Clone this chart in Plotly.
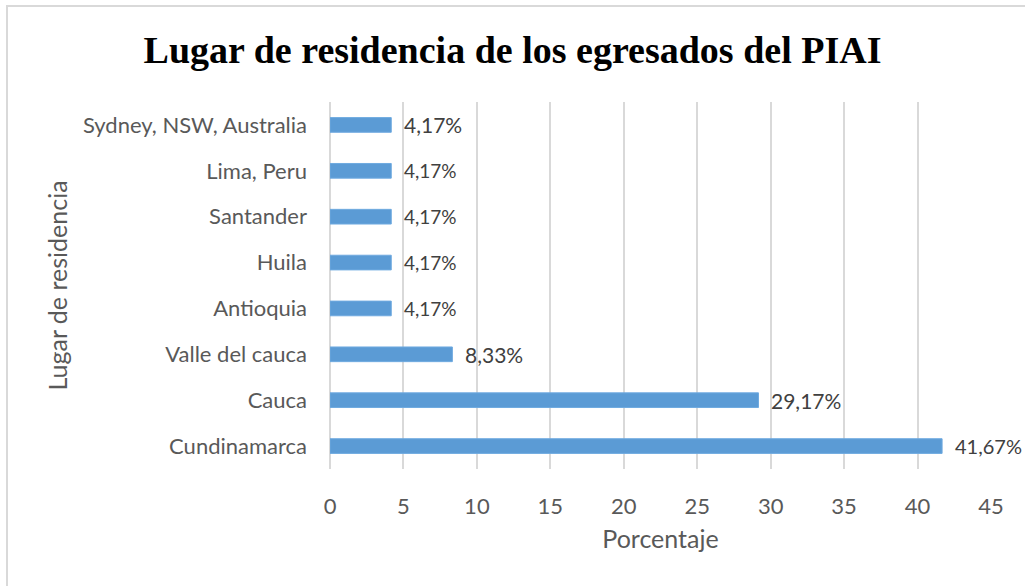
import plotly.graph_objects as go

categories = ["Cundinamarca", "Cauca", "Valle del cauca", "Antioquia", "Huila",
              "Santander", "Lima, Peru", "Sydney, NSW, Australia"]
values = [41.67, 29.17, 8.33, 4.17, 4.17, 4.17, 4.17, 4.17]
label_sizes = [20, 21, 21, 19, 19, 19, 19, 21]
x_ticks = [0, 5, 10, 15, 20, 25, 30, 35, 40, 45]

W, H = 1025, 586
ML, MR, MT, MB = 330, 34, 102, 117
PW, PH = W - ML - MR, H - MT - MB

BAR = "#5B9BD5"
TXT = "#595959"
GRID = "#D9D9D9"
FONT = "Lato, Carlito, Calibri, sans-serif"

fig = go.Figure()
fig.add_trace(go.Bar(
    x=values, y=categories, orientation="h",
    marker=dict(color=BAR, line=dict(color="#6FAAE0", width=1)),
    width=0.32, hoverinfo="skip",
))

for v, c, s in zip(values, categories, label_sizes):
    fig.add_annotation(
        x=v, y=c, xref="x", yref="y",
        text=f"{v:.2f}".replace(".", ",") + "%",
        showarrow=False, xanchor="left", yanchor="middle",
        xshift=11, font=dict(family=FONT, size=s, color="#404040"),
    )

def px_x(p):
    return (p - ML) / PW

def px_y(p):
    return (H - MB - p) / PH

# chart border (left and top edges visible)
fig.add_shape(type="line", xref="paper", yref="paper",
              x0=px_x(7), x1=px_x(7), y0=px_y(5), y1=px_y(H + 5),
              line=dict(color=GRID, width=2))
fig.add_shape(type="line", xref="paper", yref="paper",
              x0=px_x(6), x1=px_x(W + 5), y0=px_y(6), y1=px_y(6),
              line=dict(color=GRID, width=2))

fig.update_layout(
    width=W, height=H,
    margin=dict(l=ML, r=MR, t=MT, b=MB, autoexpand=False),
    paper_bgcolor="white", plot_bgcolor="white",
    showlegend=False,
    title=dict(
        text="<b>Lugar de residencia de los egresados del PIAI</b>",
        font=dict(family="Liberation Serif, Times New Roman, serif", size=38, color="black"),
        x=0.5, xanchor="center", xref="container",
        y=1 - 50 / H, yanchor="middle", yref="container",
    ),
    xaxis=dict(
        range=[0, 45], tickvals=x_ticks, ticktext=[str(t) for t in x_ticks],
        showgrid=True, gridcolor=GRID, gridwidth=2,
        zeroline=True, zerolinecolor=GRID, zerolinewidth=2,
        showline=False, ticks="", ticklabelstandoff=22,
        tickfont=dict(family=FONT, size=22, color=TXT),
        title=dict(text="Porcentaje", font=dict(family=FONT, size=25, color=TXT), standoff=12),
        fixedrange=True,
    ),
    yaxis=dict(
        categoryorder="array", categoryarray=categories,
        showgrid=False, zeroline=False, showline=False, ticks="",
        ticklabelstandoff=22,
        tickfont=dict(family=FONT, size=22, color=TXT),
        title=dict(text="Lugar de residencia", font=dict(family=FONT, size=25, color=TXT), standoff=8),
        fixedrange=True,
    ),
)

fig.write_html("out.html", config={"displayModeBar": False},
               post_script="document.body.style.margin='0';document.body.style.overflow='hidden';")
